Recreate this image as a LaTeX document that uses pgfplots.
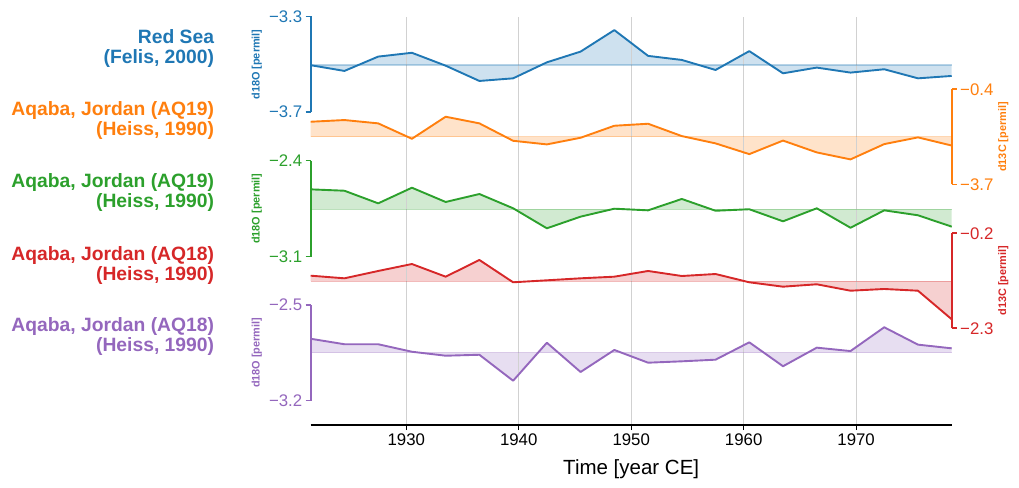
\documentclass[border=0pt]{standalone}
\usepackage{fontspec}
\setmainfont{Liberation Sans}
\usepackage{pgfplots}
\usepackage{pgfplotstable}
\pgfplotsset{compat=1.18}
\usepgfplotslibrary{fillbetween}
\definecolor{cA}{HTML}{1F77B4}
\definecolor{cB}{HTML}{FF7F0E}
\definecolor{cC}{HTML}{2CA02C}
\definecolor{cD}{HTML}{D62728}
\definecolor{cE}{HTML}{9467BD}
\newcommand{\tickfont}{\fontsize{16.8}{18}\selectfont}
\newcommand{\lblfont}{\fontsize{19.3}{20}\selectfont\bfseries}
\newcommand{\ylfont}{\fontsize{10.9}{12}\selectfont\bfseries}

\pgfplotstableread{
x y
1921.5 -3.504
1924.5 -3.528
1927.5 -3.468
1930.5 -3.452
1933.5 -3.506
1936.5 -3.570
1939.5 -3.559
1942.5 -3.492
1945.5 -3.447
1948.5 -3.357
1951.5 -3.465
1954.5 -3.482
1957.5 -3.524
1960.5 -3.445
1963.5 -3.538
1966.5 -3.514
1969.5 -3.535
1972.5 -3.521
1975.5 -3.559
1978.5 -3.549
}\tblA
\pgfplotstableread{
x y
1921.5 -1.525
1924.5 -1.466
1927.5 -1.581
1930.5 -2.115
1933.5 -1.351
1936.5 -1.581
1939.5 -2.185
1942.5 -2.310
1945.5 -2.080
1948.5 -1.664
1951.5 -1.594
1954.5 -2.022
1957.5 -2.275
1960.5 -2.647
1963.5 -2.178
1966.5 -2.588
1969.5 -2.830
1972.5 -2.300
1975.5 -2.067
1978.5 -2.350
}\tblB
\pgfplotstableread{
x y
1921.5 -2.609
1924.5 -2.619
1927.5 -2.711
1930.5 -2.597
1933.5 -2.701
1936.5 -2.643
1939.5 -2.747
1942.5 -2.893
1945.5 -2.808
1948.5 -2.750
1951.5 -2.762
1954.5 -2.679
1957.5 -2.765
1960.5 -2.754
1963.5 -2.842
1966.5 -2.747
1969.5 -2.889
1972.5 -2.762
1975.5 -2.798
1978.5 -2.881
}\tblC
\pgfplotstableread{
x y
1921.5 -1.137
1924.5 -1.195
1927.5 -1.033
1930.5 -0.879
1933.5 -1.159
1936.5 -0.790
1939.5 -1.283
1942.5 -1.239
1945.5 -1.195
1948.5 -1.159
1951.5 -1.033
1954.5 -1.144
1957.5 -1.100
1960.5 -1.283
1963.5 -1.380
1966.5 -1.327
1969.5 -1.469
1972.5 -1.431
1975.5 -1.469
1978.5 -2.101
}\tblD
\pgfplotstableread{
x y
1921.5 -2.747
1924.5 -2.787
1927.5 -2.787
1930.5 -2.842
1933.5 -2.871
1936.5 -2.864
1939.5 -3.054
1942.5 -2.776
1945.5 -2.990
1948.5 -2.829
1951.5 -2.922
1954.5 -2.912
1957.5 -2.900
1960.5 -2.773
1963.5 -2.948
1966.5 -2.812
1969.5 -2.837
1972.5 -2.663
1975.5 -2.790
1978.5 -2.817
}\tblE

\pgfplotsset{
  stk/.style={scale only axis, width=641pt, xmin=1921.5, xmax=1978.5,
    axis x line=none, clip=false, xtick=\empty, tick align=outside,
    major tick length=5pt, anchor=south west,
    yticklabel style={font=\tickfont, text=#1},
    y axis line style={#1, line width=1.6pt, -},
    ytick style={#1, line width=1.6pt}},
  stkL/.style={stk=#1, axis y line*=left},
  stkR/.style={stk=#1, axis y line*=right},
}

% series drawing macro: #1 table, #2 colour, #3 baseline
\newcommand{\series}[3]{%
  \addplot[name path=base, draw=#2, draw opacity=0.3, line width=1.3pt] coordinates {(1921.5,#3) (1978.5,#3)};
  \addplot[name path=line, draw=none] table[x=x,y=y] {#1};
  \addplot[fill=#2, fill opacity=0.22, draw=none] fill between[of=line and base];
  \addplot[draw=#2, line width=1.9pt, line join=round] table[x=x,y=y] {#1};
}

\begin{document}
\begin{tikzpicture}[x=1pt,y=1pt]

% background axis with x ticks and grid
\begin{axis}[scale only axis, width=641pt, height=408pt, at={(310.7pt,62pt)}, anchor=south west,
  xmin=1921.5, xmax=1978.5, ymin=0, ymax=1,
  axis y line=none, axis x line*=bottom,
  x axis line style={black, line width=1.6pt, -},
  xtick={1930,1940,1950,1960,1970},
  xticklabels={1930,1940,1950,1960,1970},
  xticklabel style={font=\tickfont},
  x tick style={black, line width=1.2pt},
  tick align=outside, major tick length=5pt,
  xmajorgrids, grid style={black!18, line width=0.8pt},
  xlabel={Time [year CE]},
  xlabel style={font=\fontsize{20.5}{22}\selectfont, yshift=-7pt},
  ytick=\empty]
\addplot[draw=none, forget plot] coordinates {(1921.5,0) (1978.5,1)};
\end{axis}

% Blue
\begin{axis}[stkL=cA, height=95.5pt, at={(310.7pt,375pt)}, ymin=-3.7, ymax=-3.3,
  ytick={-3.7,-3.3}, yticklabels={−3.7,−3.3}]
\series{\tblA}{cA}{-3.503}
\end{axis}
% Orange
\begin{axis}[stkR=cB, height=95.2pt, at={(310.7pt,302.5pt)}, ymin=-3.7, ymax=-0.4,
  ytick={-3.7,-0.4}, yticklabels={−3.7,−0.4}]
\series{\tblB}{cB}{-2.046}
\end{axis}
% Green
\begin{axis}[stkL=cC, height=96pt, at={(310.7pt,230.3pt)}, ymin=-3.1, ymax=-2.4,
  ytick={-3.1,-2.4}, yticklabels={−3.1,−2.4}]
\series{\tblC}{cC}{-2.754}
\end{axis}
% Red
\begin{axis}[stkR=cD, height=95pt, at={(310.7pt,158.7pt)}, ymin=-2.3, ymax=-0.2,
  ytick={-2.3,-0.2}, yticklabels={−2.3,−0.2}]
\series{\tblD}{cD}{-1.259}
\end{axis}
% Purple
\begin{axis}[stkL=cE, height=95.7pt, at={(310.7pt,86.3pt)}, ymin=-3.2, ymax=-2.5,
  ytick={-3.2,-2.5}, yticklabels={−3.2,−2.5}]
\series{\tblE}{cE}{-2.849}
\end{axis}

% y labels
\node[rotate=90, text=cA, font=\ylfont] at (256.7,422.5) {d18O [permil]};
\node[rotate=90, text=cB, font=\ylfont] at (1003.3,350.1) {d13C [permil]};
\node[rotate=90, text=cC, font=\ylfont] at (256.7,278.3) {d18O [permil]};
\node[rotate=90, text=cD, font=\ylfont] at (1003.3,206.2) {d13C [permil]};
\node[rotate=90, text=cE, font=\ylfont] at (256.7,134.2) {d18O [permil]};

% series labels
\node[anchor=east, align=right, text=cA, font=\lblfont, inner sep=0pt] at (214.3,438) {Red Sea\\(Felis, 2000)};
\node[anchor=east, align=right, text=cB, font=\lblfont, inner sep=0pt] at (214.3,366) {Aqaba, Jordan (AQ19)\\(Heiss, 1990)};
\node[anchor=east, align=right, text=cC, font=\lblfont, inner sep=0pt] at (214.3,294.3) {Aqaba, Jordan (AQ19)\\(Heiss, 1990)};
\node[anchor=east, align=right, text=cD, font=\lblfont, inner sep=0pt] at (214.3,221.7) {Aqaba, Jordan (AQ18)\\(Heiss, 1990)};
\node[anchor=east, align=right, text=cE, font=\lblfont, inner sep=0pt] at (214.3,150) {Aqaba, Jordan (AQ18)\\(Heiss, 1990)};

\pgfresetboundingbox
\path[use as bounding box] (0,0) rectangle (1019,487);
\end{tikzpicture}
\end{document}
